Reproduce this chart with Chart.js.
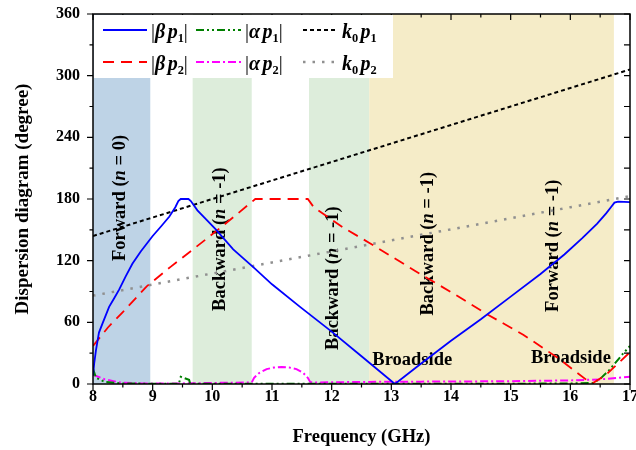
<!DOCTYPE html>
<html>
<head>
<meta charset="utf-8">
<script src="https://cdn.jsdelivr.net/npm/chart.js@4.4.1/dist/chart.umd.min.js"></script>
<style>
  html, body { margin: 0; padding: 0; background: #fff; }
  #wrap { width: 636px; height: 450px; }
</style>
</head>
<body>
<div id="wrap"><canvas id="dispChart" width="636" height="450"></canvas></div>
<script>
// |beta p1|
const betaP1Freq = [8.0, 8.02, 8.05, 8.1, 8.16, 8.27, 8.35, 8.44, 8.55, 8.66, 8.8, 9.0, 9.15, 9.28, 9.38, 9.43, 9.47, 9.6, 9.64, 9.75, 9.9, 10.05, 10.35, 10.7, 11.0, 11.47, 12.0, 12.5, 13.06, 13.5, 14.0, 14.5, 15.0, 15.5, 15.9, 16.2, 16.45, 16.6, 16.68, 16.74, 16.8, 17.0];
const betaP1 = [8, 20, 33, 50, 59, 75, 83, 92, 105, 117, 129, 144, 154, 163, 172, 178, 180, 180, 178, 169, 160, 151, 131, 113, 97, 75, 51, 27, 0, 20, 42, 63, 85, 107, 126, 142, 156, 166, 172, 176.5, 177.5, 177];

// |beta p2|
const betaP2Freq = [8.0, 8.25, 8.5, 8.9, 9.3, 9.7, 10.2, 10.72, 11.6, 11.7, 12.2, 12.64, 13.4, 14.07, 14.6, 15.21, 15.8, 16.27, 16.38, 16.6, 16.8, 17.0];
const betaP2 = [37, 55, 70, 95, 114, 132, 155, 180, 180, 172, 152, 137, 110, 87, 68, 48, 25, 4, 1, 9, 20, 31];

// |alpha p1|
const alphaP1Freq = [8.0, 8.05, 8.2, 8.5, 9.0, 9.44, 9.47, 9.61, 9.63, 10, 11, 12, 13, 14, 15, 16, 16.38, 16.5, 16.66, 16.89, 17.0];
const alphaP1 = [15, 6, 2, 0.5, 0.3, 0.3, 7, 4, 0.3, 0.3, 0.3, 0.3, 0.3, 0.3, 0.3, 0.5, 1, 5, 14, 30, 37];

// |alpha p2|
const alphaP2Freq = [8.0, 8.2, 8.45, 8.8, 9.5, 10.0, 10.6, 10.66, 10.7, 10.78, 10.91, 11.03, 11.16, 11.29, 11.41, 11.52, 11.6, 11.64, 11.7, 12.5, 13.5, 15.0, 16.0, 16.5, 17.0];
const alphaP2 = [9, 4.5, 1.5, 0.6, 0.6, 1, 1.5, 1.5, 6, 10.5, 14.5, 16, 16.6, 16, 14.5, 11, 6, 2, 1.5, 2, 2.3, 2.7, 3.5, 4.5, 7];

// light lines k0 p1, k0 p2
const k0Freq = [8, 9, 10, 11, 12, 13, 14, 15, 16, 17];
const k0P1 = [144, 162, 180, 198, 216, 234, 252, 270, 288, 306];
const k0P2 = [86, 96.8, 107.5, 118.3, 129, 139.8, 150.5, 161.3, 172, 182.8];

// shaded bands (GHz)
const bandStart = [8.0, 9.67, 11.62, 12.63];
const bandEnd = [8.96, 10.66, 12.63, 16.73];
const bandColor = ['#bed3e6', '#ddeddb', '#ddeddb', '#f5ecc8'];

const SERIF = "'Liberation Serif', 'Times New Roman', serif";
Chart.defaults.font.family = SERIF;
Chart.defaults.color = '#000';

function toXY(xs, ys) {
  return xs.map((x, i) => ({ x: x, y: ys[i] }));
}

// draws text made of pieces: r = regular, b = bold, i = bold italic, s = subscript, g = small gap
function drawRich(ctx, parts, x, y, size, measureOnly) {
  let cx = x;
  parts.forEach(([txt, st]) => {
    if (st === 'g') { cx += size * 0.12; return; }
    const sub = st === 's';
    const fs = sub ? size * 0.62 : size;
    const weight = st === 'r' ? 'normal ' : 'bold ';
    ctx.font = (st === 'i' ? 'italic ' : '') + weight + fs + 'px ' + SERIF;
    if (!measureOnly) ctx.fillText(txt, cx, sub ? y + size * 0.22 : y);
    cx += ctx.measureText(txt).width;
  });
  return cx - x;
}

const bands = {
  id: 'bands',
  beforeDatasetsDraw(chart) {
    const { ctx, chartArea: a, scales: { x } } = chart;
    ctx.save();
    bandStart.forEach((s, i) => {
      const x0 = x.getPixelForValue(s);
      const x1 = x.getPixelForValue(bandEnd[i]);
      ctx.fillStyle = bandColor[i];
      ctx.fillRect(x0, a.top, x1 - x0, a.bottom - a.top);
    });

    // region labels
    const notes = [
      { f: 8.45, v: 181, rot: true, parts: [['Forward (', 'b'], ['n', 'i'], [' = 0)', 'b']] },
      { f: 10.13, v: 141, rot: true, parts: [['Backward (', 'b'], ['n', 'i'], [' = -1)', 'b']] },
      { f: 12.03, v: 103, rot: true, parts: [['Backward (', 'b'], ['n', 'i'], [' = -1)', 'b']] },
      { f: 13.61, v: 136.5, rot: true, parts: [['Backward (', 'b'], ['n', 'i'], [' = -1)', 'b']] },
      { f: 15.72, v: 134.5, rot: true, parts: [['Forward (', 'b'], ['n', 'i'], [' = -1)', 'b']] },
      { f: 13.35, v: 23.6, rot: false, parts: [['Broadside', 'b']] },
      { f: 16.01, v: 25.3, rot: false, parts: [['Broadside', 'b']] }
    ];
    const ys = chart.scales.y;
    ctx.fillStyle = '#000';
    ctx.textBaseline = 'middle';
    ctx.textAlign = 'left';
    notes.forEach(n => {
      const w = drawRich(ctx, n.parts, 0, 0, 18.5, true);
      ctx.save();
      ctx.translate(x.getPixelForValue(n.f), ys.getPixelForValue(n.v));
      if (n.rot) ctx.rotate(-Math.PI / 2);
      drawRich(ctx, n.parts, -w / 2, 0, 18.5, false);
      ctx.restore();
    });
    ctx.restore();
  }
};

const frameTicks = {
  id: 'frameTicks',
  afterDatasetsDraw(chart) {
    const { ctx, chartArea: a, scales: { x, y } } = chart;
    ctx.save();
    ctx.strokeStyle = '#000';
    ctx.lineWidth = 1.2;
    ctx.beginPath();
    for (let v = 8; v <= 17.001; v += 0.5) {
      const px = x.getPixelForValue(v);
      const len = Number.isInteger(v) ? 6 : 3.5;
      ctx.moveTo(px, a.bottom); ctx.lineTo(px, a.bottom + len);
      ctx.moveTo(px, a.top); ctx.lineTo(px, a.top + len);
    }
    for (let v = 0; v <= 360; v += 30) {
      const py = y.getPixelForValue(v);
      const len = v % 60 === 0 ? 6 : 3.5;
      ctx.moveTo(a.left, py); ctx.lineTo(a.left - len, py);
      ctx.moveTo(a.right, py); ctx.lineTo(a.right - 6, py);
    }
    ctx.stroke();
    ctx.lineWidth = 1.5;
    ctx.strokeRect(a.left, a.top, a.right - a.left, a.bottom - a.top);
    ctx.restore();
  }
};

const keyBox = {
  id: 'keyBox',
  afterDraw(chart) {
    const ctx = chart.ctx;
    const a = chart.chartArea;
    ctx.save();
    ctx.fillStyle = '#fff';
    ctx.fillRect(a.left + 1, a.top + 1, 299, 63);
    const colX = [103, 196, 303];
    const colEnd = [147, 241, 338];
    const rowY = [30, 62];
    const items = [
      { c: 0, r: 0, color: '#0000ff', dash: [], w: 2, parts: [['|', 'r'], ['β', 'i'], ['', 'g'], ['p', 'i'], ['1', 's'], ['|', 'r']] },
      { c: 1, r: 0, color: '#008000', dash: [8, 3, 2, 3, 2, 3], w: 2, parts: [['|', 'r'], ['α', 'i'], ['', 'g'], ['p', 'i'], ['1', 's'], ['|', 'r']] },
      { c: 2, r: 0, color: '#000000', dash: [4, 3], w: 2, parts: [['k', 'i'], ['0', 's'], ['', 'g'], ['p', 'i'], ['1', 's']] },
      { c: 0, r: 1, color: '#ff0000', dash: [11, 7], w: 2, parts: [['|', 'r'], ['β', 'i'], ['', 'g'], ['p', 'i'], ['2', 's'], ['|', 'r']] },
      { c: 1, r: 1, color: '#ff00ff', dash: [8, 3, 2, 3], w: 2, parts: [['|', 'r'], ['α', 'i'], ['', 'g'], ['p', 'i'], ['2', 's'], ['|', 'r']] },
      { c: 2, r: 1, color: '#909090', dash: [2.5, 7], w: 2.5, parts: [['k', 'i'], ['0', 's'], ['', 'g'], ['p', 'i'], ['2', 's']] }
    ];
    items.forEach(it => {
      const yy = rowY[it.r];
      ctx.strokeStyle = it.color;
      ctx.lineWidth = it.w;
      ctx.setLineDash(it.dash);
      ctx.beginPath();
      ctx.moveTo(colX[it.c], yy);
      ctx.lineTo(colEnd[it.c], yy);
      ctx.stroke();
      ctx.setLineDash([]);
      ctx.fillStyle = '#000';
      ctx.textBaseline = 'alphabetic';
      ctx.textAlign = 'left';
      drawRich(ctx, it.parts, colEnd[it.c] + 4, yy + 8, 20, false);
    });
    ctx.restore();
  }
};

const ctx = document.getElementById('dispChart').getContext('2d');
new Chart(ctx, {
  type: 'line',
  data: {
    datasets: [
      { label: '|βp1|', data: toXY(betaP1Freq, betaP1), borderColor: '#0000ff', borderWidth: 1.8 },
      { label: '|βp2|', data: toXY(betaP2Freq, betaP2), borderColor: '#ff0000', borderWidth: 1.8, borderDash: [11, 7] },
      { label: '|αp1|', data: toXY(alphaP1Freq, alphaP1), borderColor: '#008000', borderWidth: 2, borderDash: [8, 3, 2, 3, 2, 3] },
      { label: '|αp2|', data: toXY(alphaP2Freq, alphaP2), borderColor: '#ff00ff', borderWidth: 2, borderDash: [8, 3, 2, 3] },
      { label: 'k0p1', data: toXY(k0Freq, k0P1), borderColor: '#000000', borderWidth: 2, borderDash: [4, 3] },
      { label: 'k0p2', data: toXY(k0Freq, k0P2), borderColor: '#909090', borderWidth: 2.5, borderDash: [2.5, 7] }
    ]
  },
  options: {
    responsive: false,
    animation: false,
    devicePixelRatio: 1,
    parsing: true,
    elements: { point: { radius: 0 }, line: { tension: 0, fill: false } },
    layout: { padding: { left: 0, right: 6, top: 14, bottom: 0 } },
    plugins: { legend: { display: false }, tooltip: { enabled: false } },
    scales: {
      x: {
        type: 'linear', min: 8, max: 17,
        grid: { display: false, drawTicks: false },
        border: { display: false },
        ticks: { stepSize: 1, padding: 3, maxRotation: 0, autoSkip: false, color: '#000', font: { size: 16, weight: 'bold' } },
        title: { display: true, text: 'Frequency (GHz)', color: '#000', font: { size: 18.5, weight: 'bold' }, padding: { top: 0, bottom: 2 } },
        afterFit: s => { s.height = 66; s.paddingLeft = 0; s.paddingRight = 0; }
      },
      y: {
        min: 0, max: 360,
        grid: { display: false, drawTicks: false },
        border: { display: false },
        ticks: { stepSize: 60, padding: 13, color: '#000', font: { size: 16, weight: 'bold' } },
        title: { display: true, text: 'Dispersion diagram (degree)', color: '#000', font: { size: 19, weight: 'bold' }, padding: { top: 12, bottom: 0 } },
        afterFit: s => { s.width = 93; s.paddingTop = 0; s.paddingBottom = 0; }
      }
    }
  },
  plugins: [bands, frameTicks, keyBox]
});
</script>
</body>
</html>
